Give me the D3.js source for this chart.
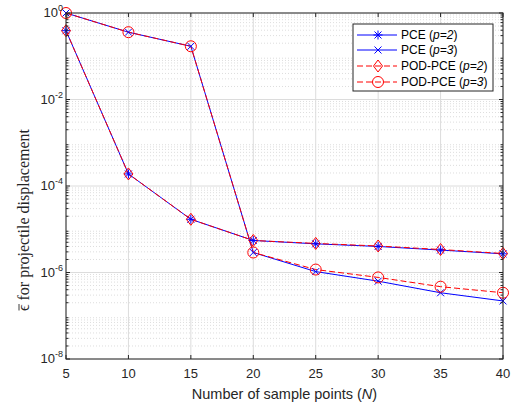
<!DOCTYPE html>
<html><head><meta charset="utf-8">
<script src="https://cdn.jsdelivr.net/npm/d3@7"></script>
<style>body{margin:0;background:#fff;} text{font-family:"Liberation Sans",Arial,sans-serif;} text.serif{font-family:"Liberation Serif","Times New Roman",serif;}</style>
</head><body><svg id="c" width="513" height="407"></svg>
<script>
const N = [5,10,15,20,25,30,35,40];
const pce2 = [0.39,1.9e-4,1.7e-5,5.5e-6,4.6e-6,4.0e-6,3.3e-6,2.7e-6];
const pce3 = [1.0,0.36,0.17,2.9e-6,1.05e-6,6.3e-7,3.4e-7,2.2e-7];
const pod2 = [0.39,1.9e-4,1.7e-5,5.5e-6,4.7e-6,4.1e-6,3.4e-6,2.75e-6];
const pod3 = [1.0,0.36,0.17,2.9e-6,1.17e-6,7.7e-7,4.7e-7,3.4e-7];
const xTicks = [5,10,15,20,25,30,35,40];
const yExps = [0,-2,-4,-6,-8];
const legendLabels = [["PCE (","p=2",")"],["PCE (","p=3",")"],["POD-PCE (","p=2",")"],["POD-PCE (","p=3",")"]];

const svg = d3.select("#c");
const L=66,R=503,T=13,B=359;
const x = d3.scaleLinear().domain([5,40]).range([L,R]);
const y = d3.scaleLog().domain([1e-8,1]).range([B,T]);
const axc = "#262626";

// minor grid
const minors=[];
for(let e=-8;e<0;e++) for(let k=2;k<=9;k++) minors.push(k*Math.pow(10,e));
const g = svg.append("g");
g.selectAll(".mg").data(minors).enter().append("line")
 .attr("x1",L).attr("x2",R).attr("y1",d=>y(d)).attr("y2",d=>y(d))
 .attr("stroke","#d4d4d4").attr("stroke-width",0.8).attr("stroke-dasharray","1,2");
// major grid
g.selectAll(".gy").data(yExps).enter().append("line")
 .attr("x1",L).attr("x2",R).attr("y1",d=>y(Math.pow(10,d))).attr("y2",d=>y(Math.pow(10,d)))
 .attr("stroke","#dcdcdc").attr("stroke-width",1);
g.selectAll(".gx").data(xTicks).enter().append("line")
 .attr("y1",T).attr("y2",B).attr("x1",d=>x(d)).attr("x2",d=>x(d))
 .attr("stroke","#dcdcdc").attr("stroke-width",1);

// series
const series = [
 {v:pce2,c:"#0000ff",dash:null,m:"star"},
 {v:pce3,c:"#0000ff",dash:null,m:"x"},
 {v:pod2,c:"#ff0000",dash:"6,3",m:"diamond"},
 {v:pod3,c:"#ff0000",dash:"6,3",m:"circle"}
];
const line = d3.line().x((d,i)=>x(N[i])).y(d=>y(d));
function marker(sel,m,c,cx,cy){
  const gg = sel.append("g").attr("transform",`translate(${cx},${cy})`).attr("fill","none").attr("stroke",c).attr("stroke-width",1);
  const s=3.5;
  if(m==="x"){gg.append("path").attr("d",`M${-s},${-s}L${s},${s}M${-s},${s}L${s},${-s}`);}
  else if(m==="star"){gg.append("path").attr("d",`M${-s},${-s}L${s},${s}M${-s},${s}L${s},${-s}M0,${-s-1}L0,${s+1}M${-s-1},0L${s+1},0`);}
  else if(m==="diamond"){const d=6;gg.append("path").attr("d",`M0,${-d}L${d*0.75},0L0,${d}L${-d*0.75},0Z`);}
  else {gg.append("circle").attr("r",5.5);}
}
series.forEach(s=>{
  svg.append("path").datum(s.v).attr("d",line).attr("fill","none").attr("stroke",s.c)
   .attr("stroke-width",1).attr("stroke-dasharray",s.dash);
});
series.forEach(s=>{
  const mg = svg.append("g");
  s.v.forEach((v,i)=>marker(mg,s.m,s.c,x(N[i]),y(v)));
});

// box
svg.append("rect").attr("x",L).attr("y",T).attr("width",R-L).attr("height",B-T)
 .attr("fill","none").attr("stroke",axc).attr("stroke-width",1);
// ticks
xTicks.forEach(t=>{
  svg.append("line").attr("x1",x(t)).attr("x2",x(t)).attr("y1",B).attr("y2",B-4).attr("stroke",axc);
  svg.append("line").attr("x1",x(t)).attr("x2",x(t)).attr("y1",T).attr("y2",T+4).attr("stroke",axc);
  svg.append("text").attr("x",x(t)).attr("y",B+19).attr("text-anchor","middle")
   .attr("font-size",13).attr("fill",axc).text(t);
});
yExps.forEach(e=>{
  const yy=y(Math.pow(10,e));
  svg.append("line").attr("x1",L).attr("x2",L+4).attr("y1",yy).attr("y2",yy).attr("stroke",axc);
  svg.append("line").attr("x1",R).attr("x2",R-4).attr("y1",yy).attr("y2",yy).attr("stroke",axc);
  const t = svg.append("text").attr("x",L-3).attr("y",yy+4).attr("text-anchor","end")
   .attr("font-size",13).attr("fill",axc);
  t.append("tspan").text("10");
  t.append("tspan").attr("dy",-6).attr("font-size",9).text(e);
});
minors.forEach(v=>{
  const yy=y(v);
  svg.append("line").attr("x1",L).attr("x2",L+2.5).attr("y1",yy).attr("y2",yy).attr("stroke",axc);
  svg.append("line").attr("x1",R).attr("x2",R-2.5).attr("y1",yy).attr("y2",yy).attr("stroke",axc);
});

// axis labels
const xl = svg.append("text").attr("x",(L+R)/2).attr("y",399).attr("text-anchor","middle")
 .attr("font-size",14.5).attr("fill",axc);
xl.append("tspan").text("Number of sample points (");
xl.append("tspan").attr("font-style","italic").text("N");
xl.append("tspan").text(")");
const ylg = svg.append("g").attr("transform","translate(29,220) rotate(-90)");
const ylab = ylg.append("text").attr("class","serif").attr("text-anchor","middle")
 .attr("font-size",16).attr("fill",axc);
const eps = ylab.append("tspan").text("\u03F5");
ylab.append("tspan").text(" for projectile displacement");
const bb = eps.node().getBBox ? null : null;
const total = ylab.node().getComputedTextLength();
const ew = eps.node().getComputedTextLength();
const x0 = -total/2;
ylg.append("line").attr("x1",x0+0.5).attr("x2",x0+ew+0.5).attr("y1",-10).attr("y2",-10)
 .attr("stroke",axc).attr("stroke-width",0.9);

// legend
const lg = svg.append("g");
lg.append("rect").attr("x",353).attr("y",24).attr("width",140).attr("height",67)
 .attr("fill","#fff").attr("stroke",axc).attr("stroke-width",1);
const ly=[35,50,66,82];
series.forEach((s,i)=>{
  lg.append("line").attr("x1",357).attr("x2",397).attr("y1",ly[i]).attr("y2",ly[i])
   .attr("stroke",s.c).attr("stroke-dasharray",s.dash);
  marker(lg,s.m,s.c,378,ly[i]);
  const t = lg.append("text").attr("x",401).attr("y",ly[i]+4).attr("font-size",12).attr("fill","#000");
  t.append("tspan").text(legendLabels[i][0]);
  t.append("tspan").attr("font-style","italic").text(legendLabels[i][1]);
  t.append("tspan").text(legendLabels[i][2]);
});
</script></body></html>
